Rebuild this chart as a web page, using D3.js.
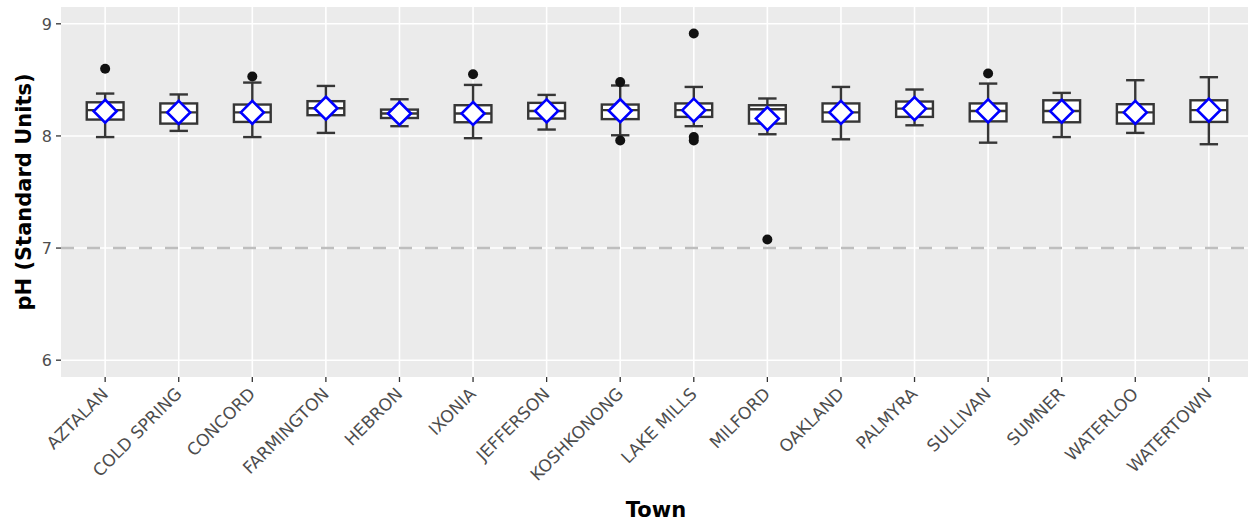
<!DOCTYPE html>
<html>
<head>
<meta charset="utf-8">
<script src="https://cdn.jsdelivr.net/npm/d3@7"></script>
<style>
  html, body { margin: 0; padding: 0; background: #fff; }
  svg { display: block; }
</style>
</head>
<body>
<svg id="chart" width="1248" height="523"></svg>
<script>
const towns = ["AZTALAN","COLD SPRING","CONCORD","FARMINGTON","HEBRON","IXONIA","JEFFERSON","KOSHKONONG","LAKE MILLS","MILFORD","OAKLAND","PALMYRA","SULLIVAN","SUMNER","WATERLOO","WATERTOWN"];
const whiskerLow  = [7.99, 8.045, 7.99, 8.027, 8.087, 7.98, 8.057, 8.006, 8.087, 8.015, 7.97, 8.095, 7.94, 7.99, 8.027, 7.926];
const q1          = [8.146, 8.11, 8.125, 8.185, 8.16, 8.122, 8.155, 8.15, 8.17, 8.11, 8.128, 8.17, 8.13, 8.122, 8.11, 8.125];
const medians     = [8.23, 8.21, 8.21, 8.247, 8.20, 8.20, 8.223, 8.23, 8.23, 8.238, 8.21, 8.244, 8.223, 8.223, 8.21, 8.23];
const q3          = [8.30, 8.29, 8.28, 8.31, 8.235, 8.274, 8.295, 8.28, 8.29, 8.274, 8.29, 8.307, 8.29, 8.318, 8.283, 8.318];
const whiskerHigh = [8.378, 8.37, 8.476, 8.446, 8.327, 8.455, 8.366, 8.45, 8.437, 8.334, 8.437, 8.414, 8.467, 8.384, 8.497, 8.524];
const means       = [8.22, 8.21, 8.21, 8.247, 8.20, 8.20, 8.223, 8.225, 8.23, 8.155, 8.21, 8.244, 8.223, 8.22, 8.21, 8.23];
const outlierTown  = ["AZTALAN","CONCORD","IXONIA","KOSHKONONG","KOSHKONONG","LAKE MILLS","LAKE MILLS","LAKE MILLS","MILFORD","SULLIVAN"];
const outlierValue = [8.60, 8.53, 8.55, 8.48, 7.96, 8.913, 7.99, 7.96, 7.076, 8.557];
const yTicks = [6, 7, 8, 9];
const refLine = 7;
const xTitle = "Town";
const yTitle = "pH (Standard Units)";

const boxes = towns.map((t, i) => ({town: t, lo: whiskerLow[i], q1: q1[i], med: medians[i], q3: q3[i], hi: whiskerHigh[i], mean: means[i]}));
const outliers = outlierTown.map((t, i) => ({town: t, v: outlierValue[i]}));

const svg = d3.select("#chart");
const P = {left: 61, right: 1253, top: 7, bottom: 377};

const x = d3.scalePoint().domain(towns).range([P.left, P.right]).padding(0.6);
const y = d3.scaleLinear().domain([5.85, 9.15]).range([P.bottom, P.top]);
const step = x.step();
const boxW = step * 0.5;
const capW = step * 0.25;

// panel
svg.append("rect").attr("x", P.left).attr("y", P.top)
  .attr("width", P.right - P.left).attr("height", P.bottom - P.top)
  .attr("fill", "#EBEBEB");

// grid
svg.append("g").selectAll("line").data(yTicks).join("line")
  .attr("x1", P.left).attr("x2", P.right)
  .attr("y1", d => y(d)).attr("y2", d => y(d))
  .attr("stroke", "#fff").attr("stroke-width", 1.6);
svg.append("g").selectAll("line").data(towns).join("line")
  .attr("x1", d => x(d)).attr("x2", d => x(d))
  .attr("y1", P.top).attr("y2", P.bottom)
  .attr("stroke", "#fff").attr("stroke-width", 1.6);

// reference line
svg.append("line")
  .attr("x1", P.left).attr("x2", P.right)
  .attr("y1", y(refLine)).attr("y2", y(refLine))
  .attr("stroke", "#BEBEBE").attr("stroke-width", 2.6)
  .attr("stroke-dasharray", "13,13");

const boxColor = "#363636";
const g = svg.append("g");

// whisker caps (errorbar)
g.selectAll(".capHi").data(boxes).join("line")
  .attr("x1", d => x(d.town) - capW / 2).attr("x2", d => x(d.town) + capW / 2)
  .attr("y1", d => y(d.hi)).attr("y2", d => y(d.hi))
  .attr("stroke", boxColor).attr("stroke-width", 2.4);
g.selectAll(".capLo").data(boxes).join("line")
  .attr("x1", d => x(d.town) - capW / 2).attr("x2", d => x(d.town) + capW / 2)
  .attr("y1", d => y(d.lo)).attr("y2", d => y(d.lo))
  .attr("stroke", boxColor).attr("stroke-width", 2.4);
// whiskers
g.selectAll(".wHi").data(boxes).join("line")
  .attr("x1", d => x(d.town)).attr("x2", d => x(d.town))
  .attr("y1", d => y(d.hi)).attr("y2", d => y(d.q3))
  .attr("stroke", boxColor).attr("stroke-width", 2.4);
g.selectAll(".wLo").data(boxes).join("line")
  .attr("x1", d => x(d.town)).attr("x2", d => x(d.town))
  .attr("y1", d => y(d.lo)).attr("y2", d => y(d.q1))
  .attr("stroke", boxColor).attr("stroke-width", 2.4);
// boxes
g.selectAll(".box").data(boxes).join("rect")
  .attr("x", d => x(d.town) - boxW / 2).attr("width", boxW)
  .attr("y", d => y(d.q3)).attr("height", d => y(d.q1) - y(d.q3))
  .attr("fill", "#fff").attr("stroke", boxColor).attr("stroke-width", 2.4);
g.selectAll(".med").data(boxes).join("line")
  .attr("x1", d => x(d.town) - boxW / 2).attr("x2", d => x(d.town) + boxW / 2)
  .attr("y1", d => y(d.med)).attr("y2", d => y(d.med))
  .attr("stroke", boxColor).attr("stroke-width", 2.4);
// outliers
g.selectAll(".out").data(outliers).join("circle")
  .attr("cx", d => x(d.town)).attr("cy", d => y(d.v)).attr("r", 5)
  .attr("fill", "#111");
// means (diamonds)
const dS = 11.5;
g.selectAll(".mean").data(boxes).join("path")
  .attr("d", d => {
    const cx = x(d.town), cy = y(d.mean);
    return `M${cx},${cy - dS}L${cx + dS},${cy}L${cx},${cy + dS}L${cx - dS},${cy}Z`;
  })
  .attr("fill", "#fff").attr("stroke", "#0000FF").attr("stroke-width", 2.6);

// y axis
const ya = svg.append("g");
ya.selectAll("line").data(yTicks).join("line")
  .attr("x1", P.left - 5).attr("x2", P.left)
  .attr("y1", d => y(d)).attr("y2", d => y(d))
  .attr("stroke", "#333").attr("stroke-width", 1.3);
ya.selectAll("text").data(yTicks).join("text")
  .attr("x", P.left - 9).attr("y", d => y(d))
  .attr("dy", "0.36em").attr("text-anchor", "end")
  .attr("font-family", "DejaVu Sans, sans-serif").attr("font-size", 16)
  .attr("fill", "#4D4D4D").text(d => d);

// x axis
const xa = svg.append("g");
xa.selectAll("line").data(towns).join("line")
  .attr("x1", d => x(d)).attr("x2", d => x(d))
  .attr("y1", P.bottom).attr("y2", P.bottom + 5)
  .attr("stroke", "#333").attr("stroke-width", 1.3);
xa.selectAll("text").data(towns).join("text")
  .attr("transform", d => `translate(${x(d) + 4},${P.bottom + 18}) rotate(-45)`)
  .attr("text-anchor", "end")
  .attr("font-family", "DejaVu Sans, sans-serif").attr("font-size", 17)
  .attr("fill", "#4D4D4D").text(d => d);

// titles
svg.append("text")
  .attr("x", (P.left + P.right) / 2 - 1).attr("y", 517)
  .attr("text-anchor", "middle")
  .attr("font-family", "DejaVu Sans, sans-serif").attr("font-weight", "bold")
  .attr("font-size", 21).attr("fill", "#000").text(xTitle);
svg.append("text")
  .attr("transform", `translate(31,${(P.top + P.bottom) / 2}) rotate(-90)`)
  .attr("text-anchor", "middle")
  .attr("font-family", "DejaVu Sans, sans-serif").attr("font-weight", "bold")
  .attr("font-size", 21).attr("fill", "#000").text(yTitle);
</script>
</body>
</html>
